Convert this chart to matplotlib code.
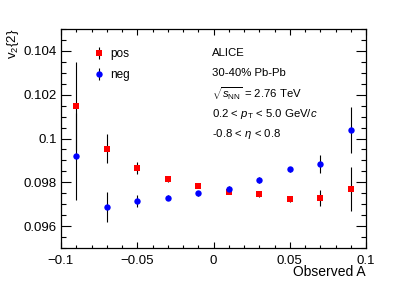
import matplotlib
matplotlib.use("Agg")
import matplotlib.pyplot as plt
from matplotlib.ticker import MultipleLocator, FuncFormatter

plt.rcParams['font.family'] = ['Liberation Sans', 'DejaVu Sans']
plt.rcParams['mathtext.fontset'] = 'custom'
plt.rcParams['mathtext.rm'] = 'Liberation Sans'
plt.rcParams['mathtext.it'] = 'Liberation Sans:italic'
plt.rcParams['mathtext.bf'] = 'Liberation Sans:bold'

obs_a = [-0.09, -0.07, -0.05, -0.03, -0.01, 0.01, 0.03, 0.05, 0.07, 0.09]
pos_v2 = [0.10148, 0.09953, 0.09864, 0.09813, 0.09782, 0.09756, 0.09746, 0.09723, 0.09727, 0.09770]
pos_err = [0.0020, 0.00066, 0.00027, 0.00012, 0.00010, 0.00010, 0.00012, 0.00012, 0.00037, 0.0010]
neg_v2 = [0.09918, 0.09688, 0.09714, 0.09729, 0.09749, 0.09771, 0.09811, 0.09860, 0.09884, 0.10041]
neg_err = [0.0020, 0.00067, 0.00027, 0.00012, 0.00010, 0.00010, 0.00012, 0.00012, 0.00040, 0.00105]

W, H = 407, 292
fig = plt.figure(figsize=(W / 100, H / 100), dpi=100)
ax = fig.add_axes([61 / W, 1 - 248 / H, (366 - 61) / W, (248 - 29) / H])

ax.errorbar(obs_a, pos_v2, yerr=pos_err, fmt='s', color='#ff0000', ecolor='black',
            elinewidth=0.8, capsize=0, markersize=4.4, markeredgewidth=0, label='pos', zorder=3)
ax.errorbar(obs_a, neg_v2, yerr=neg_err, fmt='o', color='#0000ff', ecolor='black',
            elinewidth=0.8, capsize=0, markersize=4.6, markeredgewidth=0, label='neg', zorder=3)

ax.set_xlim(-0.1, 0.1)
ax.set_ylim(0.095, 0.105)
ax.xaxis.set_major_locator(MultipleLocator(0.05))
ax.xaxis.set_minor_locator(MultipleLocator(0.01))
ax.yaxis.set_major_locator(MultipleLocator(0.002))
ax.yaxis.set_minor_locator(MultipleLocator(0.0005))

def fmt(v, pos):
    s = ('%g' % round(v, 6))
    return s.replace('-', '\u2212')
ax.xaxis.set_major_formatter(FuncFormatter(fmt))
ax.yaxis.set_major_formatter(FuncFormatter(fmt))

ax.tick_params(axis='both', which='both', direction='in', top=True, right=True,
               width=0.8, labelsize=9.5, colors='black')
ax.tick_params(axis='x', which='major', length=4.3, pad=5)
ax.tick_params(axis='x', which='minor', length=2.2)
ax.tick_params(axis='y', which='major', length=7.2, pad=3)
ax.tick_params(axis='y', which='minor', length=3.6)
for s in ax.spines.values():
    s.set_linewidth(0.9)

fig.text(366 / W, 1 - 272 / H, 'Observed A', ha='right', va='center', fontsize=10)
fig.text(13 / W, 1 - 29 / H, r'v$_{2}${2}', rotation=90, ha='center', va='top', fontsize=9.5)

leg = ax.legend(loc='upper left', bbox_to_anchor=(0.087, 0.933), frameon=False,
                fontsize=8.5, handletextpad=0.3, labelspacing=0.75, handlelength=1.2,
                borderaxespad=0)

lines = ['ALICE', '30-40% Pb-Pb', r'$\sqrt{s_{\rm NN}}$ = 2.76 TeV',
         r'0.2 < $p_{\rm T}$ < 5.0 GeV/$c$', r'-0.8 < $\eta$ < 0.8']
ys = [53, 73, 94, 114, 134]
for t, y in zip(lines, ys):
    fig.text(212 / W, 1 - y / H, t, ha='left', va='center', fontsize=8.2)

fig.savefig('out.png', dpi=100)
